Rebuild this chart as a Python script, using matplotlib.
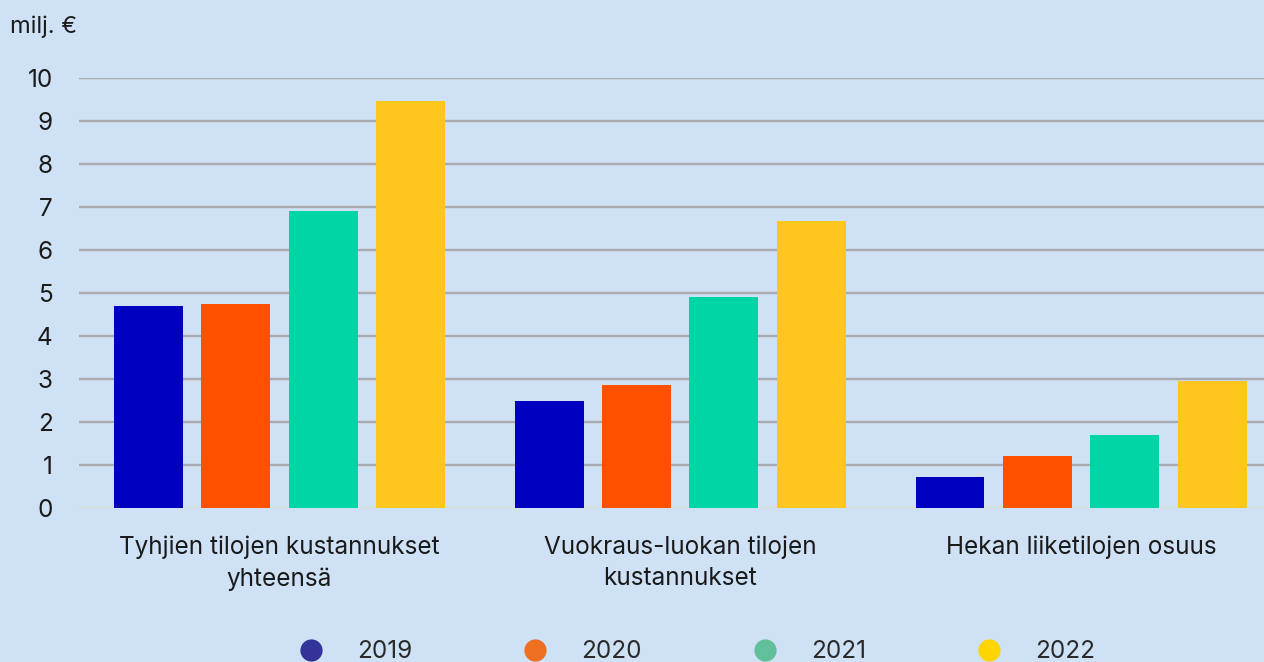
import matplotlib.pyplot as plt
from matplotlib.lines import Line2D
import numpy as np

categories = ["Tyhjien tilojen kustannukset\nyhteensä",
              "Vuokraus-luokan tilojen\nkustannukset",
              "Hekan liiketilojen osuus"]
years = ["2019", "2020", "2021", "2022"]
v2019 = [4.70, 2.49, 0.72]
v2020 = [4.74, 2.86, 1.21]
v2021 = [6.91, 4.91, 1.70]
v2022 = [9.47, 6.67, 2.95]
yticks = list(range(0, 11))

bar_colors = ['#0000C0', '#FF5000', '#00D5A5', '#FFC61E']
legend_colors = ['#333399', '#EE6E22', '#61BF9A', '#FFD500']
bg = '#CFE1F5'

plt.rcParams['font.family'] = ['Inter', 'DejaVu Sans']

fig = plt.figure(figsize=(12.64, 6.62), dpi=100, facecolor=bg)
ax = fig.add_axes([79 / 1264, 1 - 508 / 662, 1202.5 / 1264, 430 / 662])
ax.set_facecolor(bg)

x = np.arange(len(categories))
step = 0.218
width = 0.172
for i, vals in enumerate([v2019, v2020, v2021, v2022]):
    ax.bar(x + (i - 1.5) * step, vals, width, color=bar_colors[i], zorder=3)

ax.set_xlim(-0.5, 2.5)
ax.set_ylim(0, 10)
ax.set_yticks(yticks)
ax.set_yticklabels([str(t) for t in yticks])
ax.set_xticks(x)
ax.set_xticklabels(categories, linespacing=1.45)
ax.tick_params(axis='y', length=0, pad=19, labelsize=17.5, labelcolor='#1a1a1a')
ax.tick_params(axis='x', length=0, pad=20, labelsize=17.5, labelcolor='#1a1a1a')
for t in yticks[1:]:
    ax.axhline(t, color='#A9ABAE', linewidth=1.7, zorder=1)
ax.axhline(0, color='#DCDCD2', linewidth=1.7, zorder=1)
for s in ax.spines.values():
    s.set_visible(False)

fig.text(10 / 1264, 1 - 27 / 662, "milj. €", fontsize=17, color='#1a1a1a',
         ha='left', va='center')

handles = [Line2D([], [], linestyle='none', marker='o', markersize=16,
                  markerfacecolor=c, markeredgewidth=0) for c in legend_colors]
fig.legend(handles, years, loc='center', bbox_to_anchor=(697 / 1264, 1 - 652 / 662),
           ncol=4, frameon=False, handlelength=1, handletextpad=1.4,
           columnspacing=4.55, prop={'size': 17.5},
           labelcolor='#2a2a2a')

fig.savefig('out.png', dpi=100, facecolor=bg)
